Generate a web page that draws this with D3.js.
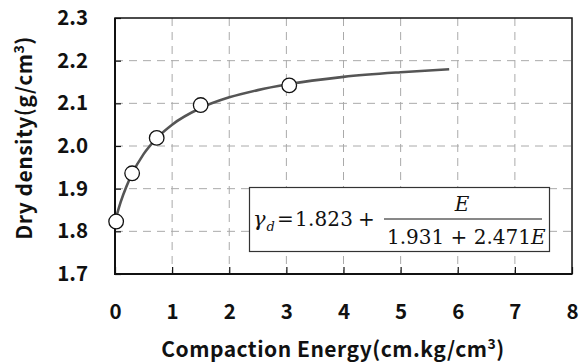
<!DOCTYPE html>
<html>
<head>
<meta charset="utf-8">
<script src="https://cdn.jsdelivr.net/npm/d3@7"></script>
<style>
  body { margin: 0; background: #fff; }
  svg { display: block; }
  .tick text { font-family: "Noto Sans CJK KR", "Noto Sans", sans-serif; font-weight: 700; font-size: 20.5px; fill: #111; }
  .grid line { stroke: #aaa; stroke-width: 1; stroke-dasharray: 8,6; }
</style>
</head>
<body>
<div id="chart"></div>
<script>
// measured points
const energy = [0.02, 0.30, 0.73, 1.50, 3.05];
const density = [1.823, 1.936, 2.019, 2.096, 2.142];

// fitted curve
const curveE = [0, 0.1, 0.2, 0.3, 0.5, 0.75, 1.0, 1.5, 2.0, 2.5, 3.0, 4.0, 5.0, 5.85];
const curveD = [1.823, 1.869, 1.905, 1.935, 1.981, 2.021, 2.050, 2.089, 2.114, 2.131, 2.144, 2.162, 2.173, 2.180];

const xTicks = [0, 1, 2, 3, 4, 5, 6, 7, 8];
const yTicks = [1.7, 1.8, 1.9, 2.0, 2.1, 2.2, 2.3];

const W = 579, H = 364;
const margin = {top: 18, right: 7, bottom: 90, left: 115},
    width = W - margin.left - margin.right,
    height = H - margin.top - margin.bottom;

const svg = d3.select("#chart").append("svg")
    .attr("width", W)
    .attr("height", H);

const g = svg.append("g")
    .attr("transform", "translate(" + margin.left + "," + margin.top + ")");

const x = d3.scaleLinear().domain([0, 8]).range([0, width]);
const y = d3.scaleLinear().domain([1.7, 2.3]).range([height, 0]);

// dashed grid
g.append("g").attr("class", "grid")
  .selectAll("line").data(xTicks.slice(1, -1)).join("line")
    .attr("x1", d => x(d)).attr("x2", d => x(d))
    .attr("y1", 0).attr("y2", height);
g.append("g").attr("class", "grid")
  .selectAll("line").data(yTicks.slice(1, -1)).join("line")
    .attr("y1", d => y(d)).attr("y2", d => y(d))
    .attr("x1", 0).attr("x2", width);

// axes, ticks pointing inward
const xAxis = d3.axisBottom(x).tickValues(xTicks).tickSizeInner(-7).tickSizeOuter(0).tickFormat(d3.format("d"));
const yAxis = d3.axisLeft(y).tickValues(yTicks).tickSizeInner(-6).tickSizeOuter(0).tickPadding(27).tickFormat(d3.format(".1f"));

const gx = g.append("g").attr("transform", "translate(0," + height + ")").call(xAxis);
const gy = g.append("g").call(yAxis);
[gx, gy].forEach(a => {
    a.select(".domain").remove();
    a.selectAll(".tick line").attr("stroke", "#111").attr("stroke-width", 1.2);
});
gx.selectAll(".tick text").attr("dy", "0.35em").attr("y", 38);

// frame
g.append("rect")
    .attr("width", width).attr("height", height)
    .attr("fill", "none").attr("stroke", "#111").attr("stroke-width", 1.5);
g.append("path")
    .attr("d", "M0,0V" + height + "H" + width)
    .attr("fill", "none").attr("stroke", "#111").attr("stroke-width", 2);

// fitted curve
const line = d3.line().curve(d3.curveMonotoneX)
    .x((d, i) => x(curveE[i]))
    .y((d, i) => y(curveD[i]));
g.append("path")
    .datum(curveD)
    .attr("d", line)
    .attr("fill", "none")
    .attr("stroke", "#555")
    .attr("stroke-width", 2.6);

// data points
g.selectAll("circle.pt").data(energy).join("circle")
    .attr("class", "pt")
    .attr("cx", d => x(d))
    .attr("cy", (d, i) => y(density[i]))
    .attr("r", 7.3)
    .attr("fill", "#fff")
    .attr("stroke", "#111")
    .attr("stroke-width", 1.3);

// equation box
const eq = svg.append("g").attr("font-family", "'DejaVu Serif', 'Liberation Serif', serif").attr("fill", "#111").attr("font-size", 20);
eq.append("rect")
    .attr("x", 249.5).attr("y", 187.5).attr("width", 300).attr("height", 64)
    .attr("fill", "#fff").attr("stroke", "#333").attr("stroke-width", 1.2);
eq.append("text").attr("x", 253).attr("y", 226).attr("font-style", "italic").attr("font-size", 21).text("γ");
eq.append("text").attr("x", 266.5).attr("y", 231).attr("font-style", "italic").attr("font-size", 13).text("d");
eq.append("text").attr("x", 277).attr("y", 226).text("=");
eq.append("text").attr("x", 295).attr("y", 226).attr("textLength", 58).text("1.823");
eq.append("text").attr("x", 358).attr("y", 226).text("+");
eq.append("line")
    .attr("x1", 384).attr("x2", 542).attr("y1", 219).attr("y2", 219)
    .attr("stroke", "#111").attr("stroke-width", 1);
eq.append("text").attr("x", 462).attr("y", 211)
    .attr("text-anchor", "middle").attr("font-style", "italic").text("E");
const den = eq.append("text").attr("x", 387).attr("y", 244);
den.append("tspan").text("1.931 + 2.471");
den.append("tspan").attr("font-style", "italic").text("E");

// axis titles
const titleFont = "'Noto Sans CJK KR', 'Noto Sans', sans-serif";
const xt = svg.append("text")
    .attr("x", 333).attr("y", 357)
    .attr("text-anchor", "middle")
    .attr("font-family", titleFont).attr("font-weight", 700).attr("font-size", 21)
    .attr("letter-spacing", 0.5)
    .attr("fill", "#111");
xt.append("tspan").text("Compaction Energy(cm.kg/cm");
xt.append("tspan").attr("font-size", 14).attr("dy", -8).text("3");
xt.append("tspan").attr("dy", 8).text(")");

const yt = svg.append("text")
    .attr("transform", "translate(32,138) rotate(-90)")
    .attr("text-anchor", "middle")
    .attr("font-family", titleFont).attr("font-weight", 700).attr("font-size", 21)
    .attr("letter-spacing", 0.5)
    .attr("fill", "#111");
yt.append("tspan").text("Dry density(g/cm");
yt.append("tspan").attr("font-size", 14).attr("dy", -8).text("3");
yt.append("tspan").attr("dy", 8).text(")");
</script>
</body>
</html>
